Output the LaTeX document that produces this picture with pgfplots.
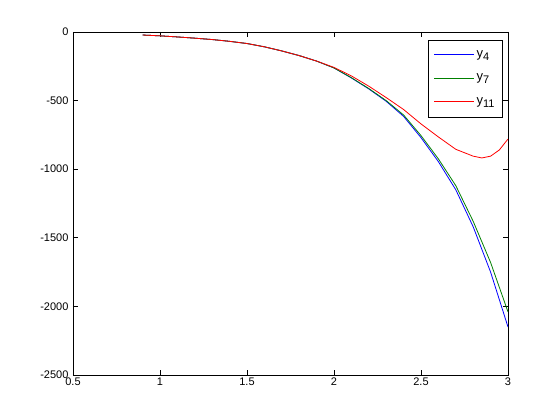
\documentclass[border=0pt]{standalone}
\usepackage{fontspec}
\setmainfont{Liberation Sans}
\usepackage{pgfplots}
\pgfplotsset{compat=1.18}
\definecolor{mblue}{rgb}{0,0,1}
\definecolor{mgreen}{rgb}{0,0.5,0}
\definecolor{mred}{rgb}{1,0,0}
\newcommand{\ysub}[1]{y\raisebox{-3pt}{\fontsize{11pt}{13pt}\selectfont #1}}
\begin{document}
\begin{tikzpicture}
\begin{axis}[
  scale only axis,
  width=435pt, height=343pt,
  xmin=0.5, xmax=3, ymin=-2500, ymax=0,
  xtick={0.5,1,1.5,2,2.5,3},
  ytick={-2500,-2000,-1500,-1000,-500,0},
  xticklabels={0.5,1,1.5,2,2.5,3},
  yticklabels={-2500,-2000,-1500,-1000,-500,0},
  tick align=inside,
  major tick length=5pt,
  axis line style={line width=0.8pt},
  tick style={line width=0.8pt, black},
  ticklabel style={font=\fontsize{11pt}{13pt}\selectfont},
  xticklabel style={yshift=1pt},
  yticklabel style={xshift=-1pt},
  legend style={at={(0.988,0.978)}, anchor=north east,
    font=\fontsize{13pt}{15pt}\selectfont, row sep=11pt, inner xsep=6pt, inner ysep=9pt, cells={anchor=west}},
  legend image code/.code={\draw[#1, line width=0.9pt] (0pt,0pt) -- (40pt,0pt);},
  every axis plot/.append style={line width=0.8pt},
]
\addplot[color=mblue] table {
0.9 -22
1.0 -28
1.1 -36
1.2 -45
1.3 -55
1.4 -68
1.5 -84
1.6 -108
1.7 -138
1.8 -172
1.9 -212
2.0 -262
2.1 -335
2.2 -415
2.3 -505
2.4 -615
2.5 -770
2.6 -945
2.7 -1150
2.8 -1420
2.9 -1750
3.0 -2150
};
\addlegendentry{\ysub{4}}
\addplot[color=mgreen] table {
0.9 -22
1.0 -28
1.1 -36
1.2 -45
1.3 -55
1.4 -68
1.5 -84
1.6 -108
1.7 -138
1.8 -172
1.9 -212
2.0 -262
2.1 -333
2.2 -412
2.3 -500
2.4 -605
2.5 -755
2.6 -925
2.7 -1120
2.8 -1380
2.9 -1680
3.0 -2040
};
\addlegendentry{\ysub{7}}
\addplot[color=mred] table {
0.9 -22
1.0 -28
1.1 -36
1.2 -45
1.3 -55
1.4 -68
1.5 -84
1.6 -108
1.7 -138
1.8 -172
1.9 -212
2.0 -258
2.1 -320
2.2 -395
2.3 -478
2.4 -565
2.5 -670
2.6 -765
2.7 -855
2.8 -905
2.85 -918
2.9 -905
2.95 -860
3.0 -780
};
\addlegendentry{\ysub{11}}
\end{axis}
\path (current axis.south west) ++(-73pt,-45pt) rectangle ++(560pt,420pt);
\end{tikzpicture}
\end{document}
